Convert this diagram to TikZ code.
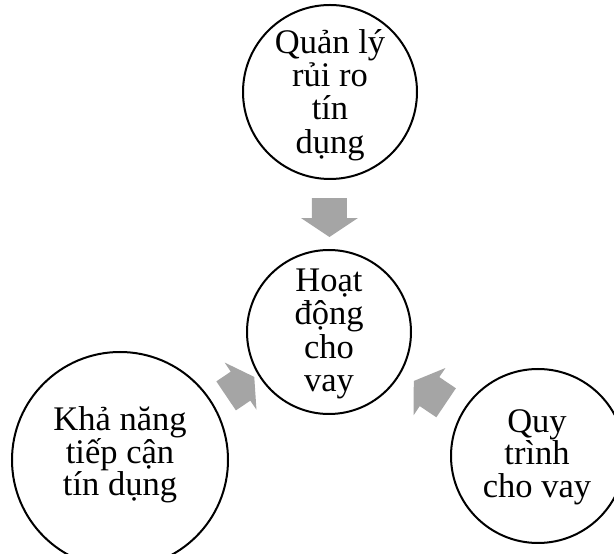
\documentclass[tikz,border=0pt]{standalone}
\usepackage{fontspec}
\setmainfont{Liberation Serif}
\usetikzlibrary{calc}
\definecolor{arrowgray}{HTML}{A5A5A5}
\tikzset{
  bubble/.style={circle, draw=black, line width=2pt, inner sep=0pt},
  caption/.style={inner sep=0pt, align=center, font=\fontsize{34.5}{#1}\selectfont},
  caption/.default=33.3,
  blockarrow/.pic={
    \fill[arrowgray] (-19.5,-17.5) -- (0.5,-17.5) -- (0.5,-28.5) -- (19.5,0)
      -- (0.5,28.5) -- (0.5,17.5) -- (-19.5,17.5) -- cycle;
  }
}
\begin{document}
\begin{tikzpicture}[x=1pt,y=1pt]
  \useasboundingbox (0,0) rectangle (614,554);
  \clip (0,0) rectangle (614,554);

  % the four circles
  \node[bubble, minimum size=174pt] (risk) at (330,462) {};
  \node[bubble, minimum size=164pt] (core) at (329,222) {};
  \node[bubble, minimum size=216pt] (access) at (120,94) {};
  \node[bubble, minimum size=174pt] (proc) at (538,98) {};

  % their captions
  \node[caption] (riskText) at ($(risk)+(0,-3)$) {Quản lý\\rủi ro\\tín\\dụng};
  \node[caption] (coreText) at ($(core)+(0,-2)$) {Hoạt\\động\\cho\\vay};
  \node[caption=32] (accessText) at ($(access)+(0,5)$) {Khả năng\\tiếp cận\\tín dụng};
  \node[caption=32.5] (procText) at ($(proc)+(-1,-1)$) {Quy\\trình\\cho vay};

  % block arrows pointing into the centre circle
  \coordinate (a1) at ($(risk)!0.523!(core)$);
  \coordinate (a2) at ($(access)!0.575!(core)$);
  \coordinate (a3) at ($(proc)!0.517!(core)$);
  \pic[rotate=-90] at (a1) {blockarrow};
  \pic[rotate=34, xscale=0.87] at (a2) {blockarrow};
  \pic[rotate=146] at (a3) {blockarrow};
\end{tikzpicture}
\end{document}
